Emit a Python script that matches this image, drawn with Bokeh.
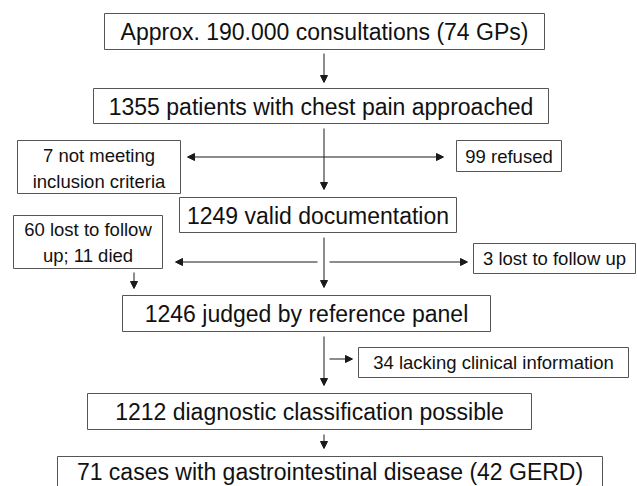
from bokeh.plotting import figure
from bokeh.models import ColumnDataSource, Range1d, Arrow, NormalHead
from bokeh.core.properties import value
from bokeh.embed import file_html
from bokeh.resources import INLINE

# ---- content (the flow counts / labels) ----
main_labels = [
    "Approx. 190.000 consultations (74 GPs)",
    "1355 patients with chest pain approached",
    "1249 valid documentation",
    "1246 judged by reference panel",
    "1212 diagnostic classification possible",
    "71 cases with gastrointestinal disease (42 GERD)",
]
side_labels = [
    "7 not meeting\ninclusion criteria",
    "99 refused",
    "60 lost to follow\nup; 11 died",
    "3 lost to follow up",
    "34 lacking clinical information",
]

# ---- layout (reference pixel space) ----
main_left = [104, 93, 179, 122, 87, 57]
main_right = [544, 548, 456, 490, 531, 602]
main_top = [13, 88, 197, 295, 393, 456]
main_bottom = [49, 123, 232, 331, 429, 494]
main_ty = [31.5, 106, 215, 313.5, 411.5, 471.5]

side_left = [17, 456, 13, 473, 358]
side_right = [180, 561, 162, 635, 628]
side_top = [140, 140, 215, 243, 347]
side_bottom = [193, 171, 268, 273, 377]
side_tx = [98.5, 508.5, 87.5, 554, 493]
side_ty = [168, 156, 242, 258, 362]

# arrows: (x0, y0, x1, y1)
arr_x0 = [323.5, 323.5, 323.5, 317, 329, 133.5, 323.5, 329, 323.5]
arr_y0 = [53, 128, 237, 261.5, 261.5, 272, 336, 358.5, 434]
arr_x1 = [323.5, 323.5, 323.5, 175, 467, 133.5, 323.5, 352, 323.5]
arr_y1 = [82, 189, 287, 261.5, 261.5, 288, 385, 358.5, 448]
# double-headed arrow
dbl_x0, dbl_y0, dbl_x1, dbl_y1 = [187], [156.5], [443], [156.5]

W, H = 637, 486
p = figure(width=W, height=H, output_backend="svg", toolbar_location=None,
           x_axis_type=None, y_axis_type=None, min_border=0,
           x_range=Range1d(0, W), y_range=Range1d(H, 0))
p.grid.visible = False
p.outline_line_color = None
p.background_fill_color = "white"
p.border_fill_color = "white"

box_col = "#555555"
txt_col = "#111111"
arr_col = "#1a1a1a"
font = value("Liberation Sans")

p.quad(left=main_left, right=main_right, top=main_top, bottom=main_bottom,
       fill_color="white", line_color=box_col, line_width=1)
p.quad(left=side_left, right=side_right, top=side_top, bottom=side_bottom,
       fill_color="white", line_color=box_col, line_width=1)

main_tx = [(l + r) / 2 for l, r in zip(main_left, main_right)]
p.text(x=main_tx, y=main_ty, text=main_labels, text_align="center",
       text_baseline="middle", text_font=font, text_font_size="23px",
       text_color=txt_col)
p.text(x=side_tx, y=side_ty, text=side_labels, text_align="center",
       text_baseline="middle", text_font=font, text_font_size="18.5px",
       text_color=txt_col, text_line_height=1.2)

src = ColumnDataSource(dict(x0=arr_x0, y0=arr_y0, x1=arr_x1, y1=arr_y1))
p.add_layout(Arrow(end=NormalHead(size=7, fill_color=arr_col, line_color=arr_col),
                   x_start="x0", y_start="y0", x_end="x1", y_end="y1",
                   line_color=arr_col, line_width=1, source=src))
src2 = ColumnDataSource(dict(x0=dbl_x0, y0=dbl_y0, x1=dbl_x1, y1=dbl_y1))
p.add_layout(Arrow(start=NormalHead(size=7, fill_color=arr_col, line_color=arr_col),
                   end=NormalHead(size=7, fill_color=arr_col, line_color=arr_col),
                   x_start="x0", y_start="y0", x_end="x1", y_end="y1",
                   line_color=arr_col, line_width=1, source=src2))

open("out.html", "w").write(file_html(p, INLINE))
